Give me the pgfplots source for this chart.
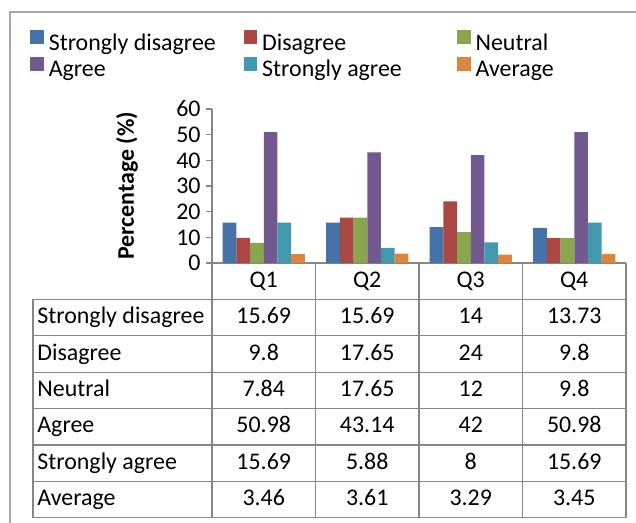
\documentclass[border=0pt]{standalone}
\usepackage{fontspec}
\setmainfont{Carlito}
\usepackage{pgfplots}
\usepackage{pgfplotstable}
\pgfplotsset{compat=1.18}
\definecolor{c1}{RGB}{69,114,167}
\definecolor{c2}{RGB}{170,70,67}
\definecolor{c3}{RGB}{137,165,78}
\definecolor{c4}{RGB}{113,88,143}
\definecolor{c5}{RGB}{65,152,175}
\definecolor{c6}{RGB}{219,132,61}
\definecolor{tgray}{RGB}{134,134,134}
\definecolor{fgray}{RGB}{166,166,166}
\pgfplotstableread{
q SD D N A SA Avg
1 15.69 9.8 7.84 50.98 15.69 3.46
2 15.69 17.65 17.65 43.14 5.88 3.61
3 14 24 12 42 8 3.29
4 13.73 9.8 9.8 50.98 15.69 3.45
}\datatable
\pgfplotsset{myleg/.style={legend image code/.code={\fill[##1] (0bp,0.2bp) rectangle (6.7bp,6.9bp);}}}
\begin{document}
\fontsize{12}{14}\selectfont
\begin{tikzpicture}[font=\fontsize{12}{14}\selectfont]
\begin{scope}[x=0.5bp,y=-0.5bp,shift={(-106bp,131.5bp)}]
\path[use as bounding box] (0,0) rectangle (636,523);
\draw[fgray,line width=0.8bp] (10,523) -- (10,12) -- (636,12);
\foreach \y in {299.5,335.9,372.3,408.7,445.1,481.5,517.9} \draw[tgray,line width=0.6bp] (33,\y) -- (626,\y);
\draw[tgray,line width=0.6bp] (33,299.5) -- (33,517.9);
\foreach \x in {212,315.5,419,522.5,626} \draw[tgray,line width=0.6bp] (\x,263) -- (\x,517.9);
\draw[tgray,line width=0.6bp] (212,263) -- (626,263);
\foreach \lab [count=\i] in {Strongly disagree,Disagree,Neutral,Agree,Strongly agree,Average}
  \node[anchor=west,inner sep=0pt,text height=8.5bp,text depth=2.5bp] at (37,{281.3+36.4*\i}) {\lab};
\foreach \c [count=\ci] in {SD,D,N,A,SA,Avg} {
  \foreach \r in {0,1,2,3} {
    \pgfplotstablegetelem{\r}{\c}\of\datatable
    \node[inner sep=0pt,text height=8.5bp,text depth=2.5bp] at ({263.75+103.5*\r},{281.3+36.4*\ci}) {\pgfplotsretval};
  }
}
\end{scope}
\begin{axis}[
  at={(0,0)}, anchor=south west,
  scale only axis, width=207bp, height=77bp,
  xmin=0.5, xmax=4.5, ymin=0, ymax=60,
  ybar=0pt, bar width=6.85bp,
  axis x line=none,
  axis y line=left,
  axis line style={draw=tgray,-,line width=0.6bp},
  ytick={0,10,...,60},
  tick align=outside,
  major tick length=3bp,
  ytick style={draw=tgray,line width=0.6bp},
  /pgf/number format/assume math mode=true,
  yticklabel style={font=\fontsize{12}{14}\selectfont, inner sep=0pt, xshift=-2.5bp},
  xtick={1,2,3,4},
  xticklabels={Q1,Q2,Q3,Q4},
  ylabel={Percentage (\%)},
  ylabel style={at={(axis description cs:-0.205,0.5)}, anchor=center, rotate=0, font=\fontsize{12}{14}\selectfont\bfseries},
  legend columns=3,
  legend style={draw=none, fill=none, at={(axis description cs:-0.4396,1.513)}, anchor=north west,
    inner sep=0pt, column sep=2.5bp, row sep=1bp,
    nodes={inner sep=0pt, text height=8.5bp, text depth=2.5bp},
    /tikz/every even column/.append style={column sep=0bp},
    font=\fontsize{12}{14}\selectfont},
  legend cell align=left,
]
\addplot[fill=c1,draw=none,myleg] table[x=q,y=SD] {\datatable};
\addlegendentry{\makebox[97.5bp][l]{Strongly disagree}}
\addplot[fill=c2,draw=none,myleg] table[x=q,y=D] {\datatable};
\addlegendentry{\makebox[97.5bp][l]{Disagree}}
\addplot[fill=c3,draw=none,myleg] table[x=q,y=N] {\datatable};
\addlegendentry{Neutral}
\addplot[fill=c4,draw=none,myleg] table[x=q,y=A] {\datatable};
\addlegendentry{\makebox[97.5bp][l]{Agree}}
\addplot[fill=c5,draw=none,myleg] table[x=q,y=SA] {\datatable};
\addlegendentry{\makebox[97.5bp][l]{Strongly agree}}
\addplot[fill=c6,draw=none,myleg] table[x=q,y=Avg] {\datatable};
\addlegendentry{Average}
\end{axis}
\begin{scope}[x=0.5bp,y=-0.5bp,shift={(-106bp,131.5bp)}]
\foreach \q [count=\i from 0] in {Q1,Q2,Q3,Q4}
  \node[inner sep=0pt,text height=8.5bp,text depth=2.5bp] at ({263.75+103.5*\i},281.3) {\q};
\end{scope}
\end{tikzpicture}
\end{document}
